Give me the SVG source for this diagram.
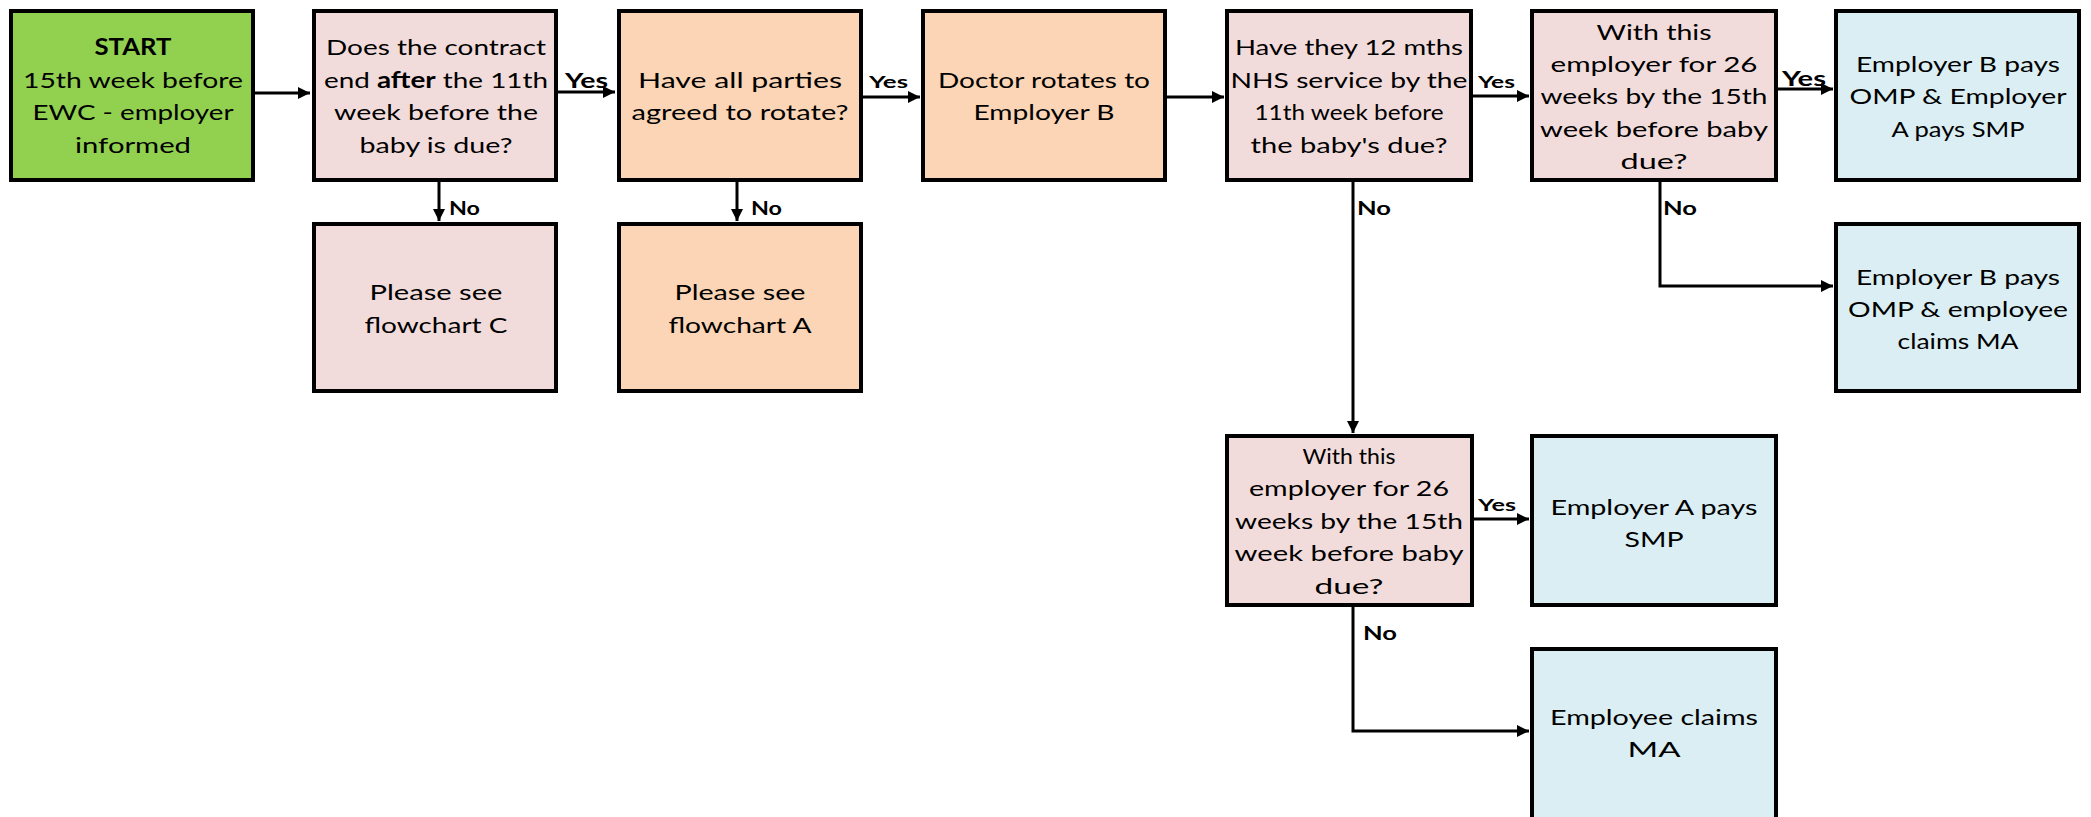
<svg xmlns="http://www.w3.org/2000/svg" width="2091" height="817" viewBox="0 0 2091 817">
<defs>
<style>
.box{stroke:#000;stroke-width:4}
.green{fill:#92D050}
.pink{fill:#F2DCDB}
.peach{fill:#FBD5B5}
.blue{fill:#DAEEF3}
.t{font-family:Lato,"Liberation Sans",sans-serif;font-size:22px;fill:#000;text-anchor:middle}
.b{font-weight:bold}
.lbl{font-family:Lato,"Liberation Sans",sans-serif;font-weight:bold;fill:#000}
.yl{font-size:21px}
.ys{font-size:17.5px}
.no{font-size:19px}
.c{fill:none;stroke:#000;stroke-width:3}
</style>
<marker id="ah" markerUnits="userSpaceOnUse" markerWidth="13" markerHeight="12" refX="12" refY="6" orient="auto">
<path d="M0,0 L12,6 L0,12 z" fill="#000"/>
</marker>
</defs>
<rect width="2091" height="817" fill="#fff"/>

<g id="connectors">
<path class="c" d="M255,93 L310,93" marker-end="url(#ah)"/>
<path class="c" d="M558,92 L615,92" marker-end="url(#ah)"/>
<text class="lbl yl" x="565" y="88" textLength="43" lengthAdjust="spacingAndGlyphs">Yes</text>
<path class="c" d="M439,182 L439,221" marker-end="url(#ah)"/>
<text class="lbl no" x="449" y="215" textLength="31" lengthAdjust="spacingAndGlyphs">No</text>
<path class="c" d="M737,182 L737,221" marker-end="url(#ah)"/>
<text class="lbl no" x="751" y="215" textLength="31" lengthAdjust="spacingAndGlyphs">No</text>
<path class="c" d="M863,97 L920,97" marker-end="url(#ah)"/>
<text class="lbl ys" x="869" y="88" textLength="39" lengthAdjust="spacingAndGlyphs">Yes</text>
<path class="c" d="M1167,97 L1224,97" marker-end="url(#ah)"/>
<path class="c" d="M1473,96 L1529,96" marker-end="url(#ah)"/>
<text class="lbl ys" x="1478" y="88" textLength="37" lengthAdjust="spacingAndGlyphs">Yes</text>
<path class="c" d="M1778,89 L1833,89" marker-end="url(#ah)"/>
<text class="lbl yl" x="1782" y="86" textLength="44" lengthAdjust="spacingAndGlyphs">Yes</text>
<path class="c" d="M1353,182 L1353,433" marker-end="url(#ah)"/>
<text class="lbl no" x="1357" y="215" textLength="34" lengthAdjust="spacingAndGlyphs">No</text>
<path class="c" d="M1660,182 L1660,286 L1833,286" marker-end="url(#ah)"/>
<text class="lbl no" x="1663" y="215" textLength="34" lengthAdjust="spacingAndGlyphs">No</text>
<path class="c" d="M1474,519 L1529,519" marker-end="url(#ah)"/>
<text class="lbl ys" x="1478" y="511" textLength="38" lengthAdjust="spacingAndGlyphs">Yes</text>
<path class="c" d="M1353,607 L1353,731 L1529,731" marker-end="url(#ah)"/>
<text class="lbl no" x="1363" y="640" textLength="34" lengthAdjust="spacingAndGlyphs">No</text>
</g>

<g id="start">
<rect class="box green" x="11" y="11" width="242" height="169"/>
<text class="t b" x="133" y="55" textLength="77" lengthAdjust="spacingAndGlyphs">START</text>
<text class="t" x="133" y="88" textLength="220" lengthAdjust="spacingAndGlyphs">15th week before</text>
<text class="t" x="133" y="120" textLength="201" lengthAdjust="spacingAndGlyphs">EWC - employer</text>
<text class="t" x="133" y="153" textLength="116" lengthAdjust="spacingAndGlyphs">informed</text>
</g>

<g id="contract-end">
<rect class="box pink" x="314" y="11" width="242" height="169"/>
<text class="t" x="436" y="55" textLength="220" lengthAdjust="spacingAndGlyphs">Does the contract</text>
<text class="t" x="436" y="88" textLength="224" lengthAdjust="spacingAndGlyphs">end <tspan class="b">after</tspan> the 11th</text>
<text class="t" x="436" y="120" textLength="204" lengthAdjust="spacingAndGlyphs">week before the</text>
<text class="t" x="436" y="153" textLength="153" lengthAdjust="spacingAndGlyphs">baby is due?</text>
</g>

<g id="parties-agreed">
<rect class="box peach" x="619" y="11" width="242" height="169"/>
<text class="t" x="740" y="88" textLength="204" lengthAdjust="spacingAndGlyphs">Have all parties</text>
<text class="t" x="740" y="120" textLength="217" lengthAdjust="spacingAndGlyphs">agreed to rotate?</text>
</g>

<g id="doctor-rotates">
<rect class="box peach" x="923" y="11" width="242" height="169"/>
<text class="t" x="1044" y="88" textLength="212" lengthAdjust="spacingAndGlyphs">Doctor rotates to</text>
<text class="t" x="1044" y="120" textLength="141" lengthAdjust="spacingAndGlyphs">Employer B</text>
</g>

<g id="nhs-service">
<rect class="box pink" x="1227" y="11" width="244" height="169"/>
<text class="t" x="1349" y="55" textLength="228" lengthAdjust="spacingAndGlyphs">Have they 12 mths</text>
<text class="t" x="1349" y="88" textLength="237" lengthAdjust="spacingAndGlyphs">NHS service by the</text>
<text class="t" x="1349" y="120" textLength="189" lengthAdjust="spacingAndGlyphs">11th week before</text>
<text class="t" x="1349" y="153" textLength="197" lengthAdjust="spacingAndGlyphs">the baby's due?</text>
</g>

<g id="employer-26-weeks-b">
<rect class="box pink" x="1532" y="11" width="244" height="169"/>
<text class="t" x="1654" y="40" textLength="115" lengthAdjust="spacingAndGlyphs">With this</text>
<text class="t" x="1654" y="72" textLength="207" lengthAdjust="spacingAndGlyphs">employer for 26</text>
<text class="t" x="1654" y="104" textLength="227" lengthAdjust="spacingAndGlyphs">weeks by the 15th</text>
<text class="t" x="1654" y="137" textLength="228" lengthAdjust="spacingAndGlyphs">week before baby</text>
<text class="t" x="1654" y="169" textLength="67" lengthAdjust="spacingAndGlyphs">due?</text>
</g>

<g id="b-omp-a-smp">
<rect class="box blue" x="1836" y="11" width="243" height="169"/>
<text class="t" x="1958" y="72" textLength="204" lengthAdjust="spacingAndGlyphs">Employer B pays</text>
<text class="t" x="1958" y="104" textLength="217" lengthAdjust="spacingAndGlyphs">OMP &amp; Employer</text>
<text class="t" x="1958" y="137" textLength="133" lengthAdjust="spacingAndGlyphs">A pays SMP</text>
</g>

<g id="flowchart-c">
<rect class="box pink" x="314" y="224" width="242" height="167"/>
<text class="t" x="436" y="300" textLength="133" lengthAdjust="spacingAndGlyphs">Please see</text>
<text class="t" x="436" y="333" textLength="143" lengthAdjust="spacingAndGlyphs">flowchart C</text>
</g>

<g id="flowchart-a">
<rect class="box peach" x="619" y="224" width="242" height="167"/>
<text class="t" x="740" y="300" textLength="131" lengthAdjust="spacingAndGlyphs">Please see</text>
<text class="t" x="740" y="333" textLength="143" lengthAdjust="spacingAndGlyphs">flowchart A</text>
</g>

<g id="b-omp-ma">
<rect class="box blue" x="1836" y="224" width="243" height="167"/>
<text class="t" x="1958" y="285" textLength="204" lengthAdjust="spacingAndGlyphs">Employer B pays</text>
<text class="t" x="1958" y="317" textLength="220" lengthAdjust="spacingAndGlyphs">OMP &amp; employee</text>
<text class="t" x="1958" y="349" textLength="121" lengthAdjust="spacingAndGlyphs">claims MA</text>
</g>

<g id="employer-26-weeks-a">
<rect class="box pink" x="1227" y="436" width="245" height="169"/>
<text class="t" x="1349" y="464" textLength="93" lengthAdjust="spacingAndGlyphs">With this</text>
<text class="t" x="1349" y="496" textLength="200" lengthAdjust="spacingAndGlyphs">employer for 26</text>
<text class="t" x="1349" y="529" textLength="228" lengthAdjust="spacingAndGlyphs">weeks by the 15th</text>
<text class="t" x="1349" y="561" textLength="229" lengthAdjust="spacingAndGlyphs">week before baby</text>
<text class="t" x="1349" y="594" textLength="69" lengthAdjust="spacingAndGlyphs">due?</text>
</g>

<g id="a-smp">
<rect class="box blue" x="1532" y="436" width="244" height="169"/>
<text class="t" x="1654" y="515" textLength="207" lengthAdjust="spacingAndGlyphs">Employer A pays</text>
<text class="t" x="1654" y="547" textLength="59" lengthAdjust="spacingAndGlyphs">SMP</text>
</g>

<g id="employee-ma">
<rect class="box blue" x="1532" y="649" width="244" height="200"/>
<text class="t" x="1654" y="725" textLength="208" lengthAdjust="spacingAndGlyphs">Employee claims</text>
<text class="t" x="1654" y="757" textLength="53" lengthAdjust="spacingAndGlyphs">MA</text>
</g>
</svg>
